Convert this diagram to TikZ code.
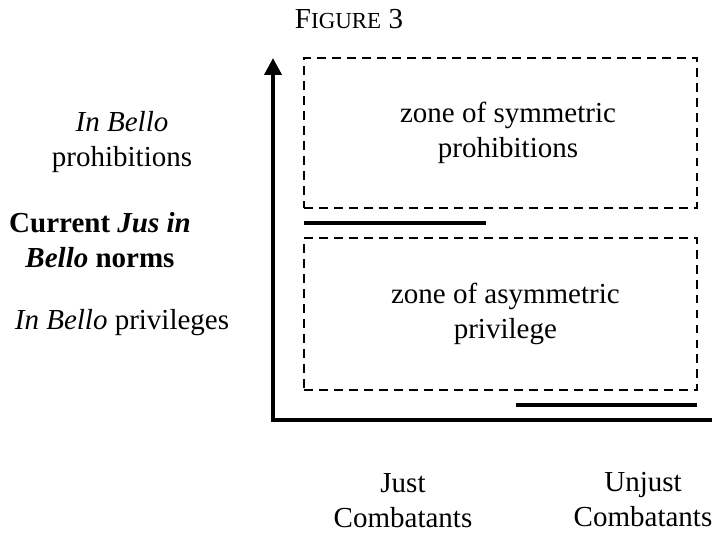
\documentclass[tikz,border=0pt]{standalone}
\usepackage{fontspec}
\setmainfont{Liberation Serif}
\usetikzlibrary{arrows.meta}
\newcommand{\smallcap}[1]{{\fontsize{9.5}{11}\selectfont #1}}

\begin{document}
\begin{tikzpicture}[x=0.4138pt,y=-0.4138pt,
    every node/.style={inner sep=0pt,align=center,font=\fontsize{12}{14.5}\selectfont},
    zone/.style={draw,line width=0.8pt,dash pattern=on 3.7pt off 2.5pt,minimum width=162.6pt},
    axis/.style={line width=1.65pt,line join=miter},
    bar/.style={line width=1.65pt}]
    \useasboundingbox (0,0) rectangle (715,532);

    \node (title) at (349,19) {F\smallcap{IGURE} 3};

    \node[zone,minimum height=62.1pt] (sym) at (500.5,133) {};
    \node[zone,minimum height=62.9pt] (asym) at (500.5,314) {};
    \node (sym text) at ([xshift=3.1pt]sym.center) {
      zone of symmetric\\
      prohibitions
    };
    \node (asym text) at ([xshift=2pt]asym.center) {
      zone of asymmetric\\
      privilege
    };

    \coordinate (o) at (273,420);
    \coordinate (ytop) at (273,58);
    \coordinate (xend) at (712,420);
    \draw[axis,{Triangle[length=7pt,width=7pt]}-] (ytop) -- (o) -- (xend);

    \coordinate (just bar) at (304,223);
    \coordinate (unjust bar) at (516,405);
    \draw[bar] (just bar) -- ++(182,0);
    \draw[bar] (unjust bar) -- ++(181,0);

    \node (proh) at (122,142) {\textit{In Bello}\\prohibitions};
    \node (norms) at (100,240) {\textbf{Current \textit{Jus in}}\\\textbf{\textit{Bello} norms}};
    \node (priv) at (122,323) {\textit{In Bello} privileges};

    \node (just) at (403,501) {Just\\Combatants};
    \node (unjust) at (643,500) {Unjust\\Combatants};

  \end{tikzpicture}
\end{document}
